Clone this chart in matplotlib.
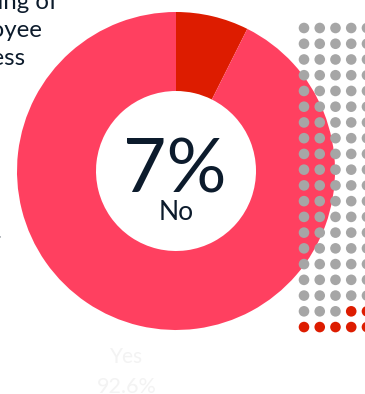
import matplotlib
matplotlib.use("Agg")
import matplotlib.pyplot as plt
from matplotlib.patches import Circle

# Survey answers (percent)
answer_labels = ["No", "Yes"]
answer_shares = [7.4, 92.6]
answer_colors = ["#DD1C00", "#FF4060"]

# Waffle: 100 respondents, the "No" ones highlighted
waffle_rows = 20
waffle_cols = 5
waffle_no_count = 7

title_lines = ["Rating of", "employee", "wellness"]

W, H = 365, 394
fig = plt.figure(figsize=(W / 100, H / 100), dpi=100)
ax = fig.add_axes([0, 0, 1, 1])
plt.rcParams["font.family"] = ["Lato", "DejaVu Sans"]

def py(y):
    return H - y

# Donut
cx, cy, r_out, r_in = 176, py(171), 159, 80
ax.pie(answer_shares, colors=answer_colors, startangle=90, counterclock=False,
       center=(cx, cy), radius=r_out,
       wedgeprops=dict(width=r_out - r_in, linewidth=0))

# Waffle grid drawn over the donut, filled from bottom-right
x0, y0, step, dot_r = 304, 28, 15.74, 5.3
for i in range(waffle_rows):
    for j in range(waffle_cols):
        order = (waffle_rows - 1 - i) * waffle_cols + (waffle_cols - 1 - j)
        col = answer_colors[0] if order < waffle_no_count else "#A6A6A6"
        ax.add_patch(Circle((x0 + j * step, py(y0 + i * step)), dot_r,
                            facecolor=col, edgecolor="none", zorder=5))

navy = "#0C1B2C"
# Centre label
ax.text(cx - 1, py(192), f"{round(answer_shares[0])}%", ha="center", va="baseline",
        fontsize=54, color=navy, zorder=6)
ax.text(cx, py(220), answer_labels[0], ha="center", va="baseline",
        fontsize=19, color=navy, zorder=6)

# Faint label for the large slice
ax.text(127, py(363), answer_labels[1], ha="center", va="baseline",
        fontsize=15, color="#F3F3F3", zorder=6)
ax.text(127, py(393), f"{answer_shares[1]}%", ha="center", va="baseline",
        fontsize=15.5, color="#F3F3F3", zorder=6)

# Heading text, left part runs off the canvas
ends = [58, 42, 26]
bases = [9, 37, 65]
for line, xe, yb in zip(title_lines, ends, bases):
    ax.text(xe, py(yb), line, ha="right", va="baseline", fontsize=17.3,
            color=navy, zorder=6)
ax.text(2, py(238), "survey.", ha="right", va="baseline", fontsize=12,
        color="#5A6470", zorder=6)

ax.set_xlim(0, W)
ax.set_ylim(0, H)
ax.set_aspect("auto")
ax.axis("off")
fig.savefig("out.png", dpi=100)
